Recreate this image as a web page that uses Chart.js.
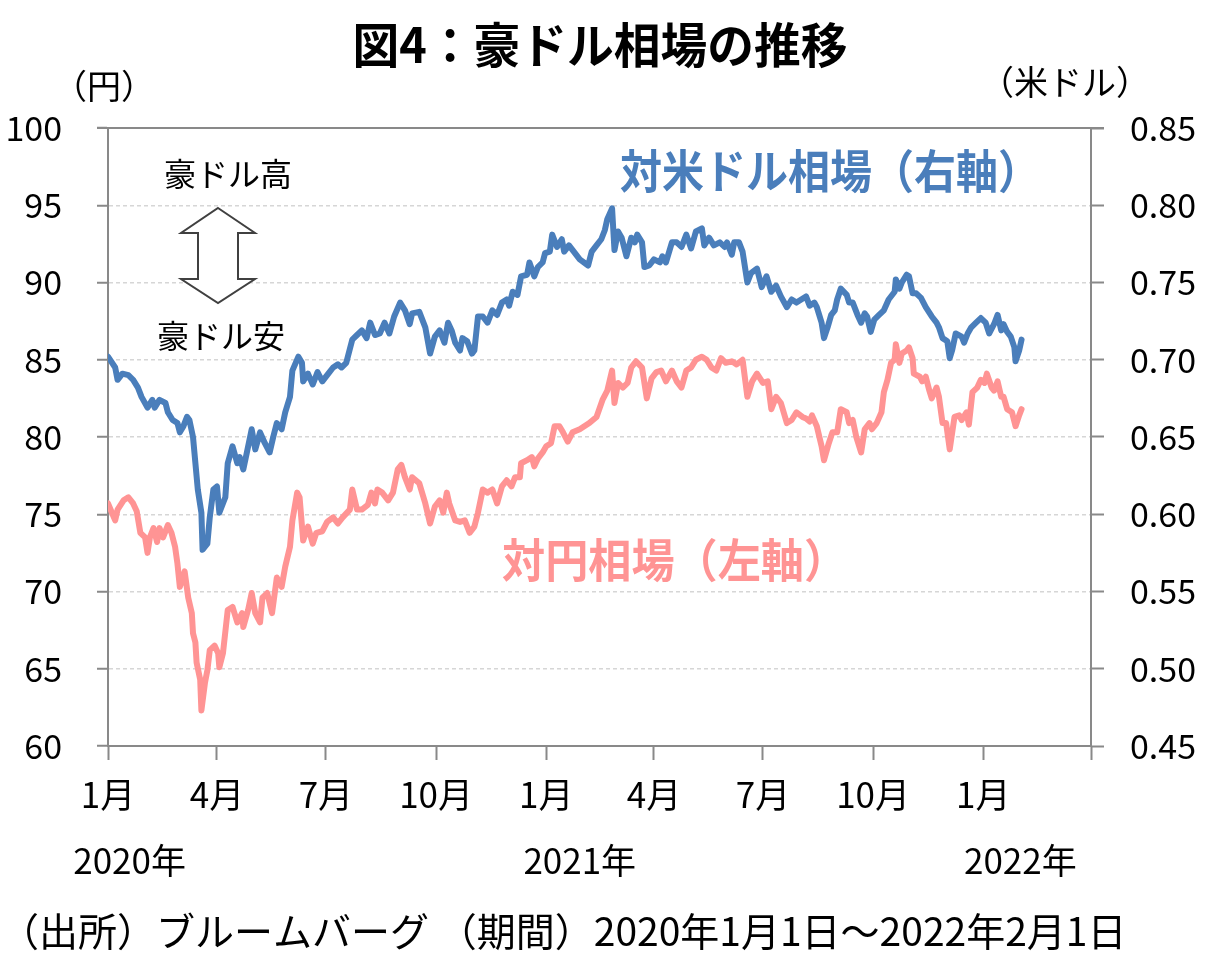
<!DOCTYPE html>
<html>
<head>
<meta charset="utf-8">
<script src="https://cdn.jsdelivr.net/npm/chart.js@4.4.1/dist/chart.umd.min.js"></script>
<style>
  body { margin: 0; background: #fff; }
  canvas { display: block; }
</style>
</head>
<body>
<canvas id="chart" width="1215" height="975"></canvas>
<script>
const FONT = '"Noto Sans CJK JP", "Noto Sans", sans-serif';

// x positions are days since 2020-01-01
const tickDays = [0, 91, 182, 274, 366, 456, 547, 639, 731, 821];
const monthLabels = ['1月', '4月', '7月', '10月', '1月', '4月', '7月', '10月', '1月', ''];
const yearLabels = ['2020年', '2021年', '2022年'];
const yearDays = [18, 394, 762];

// AUD/USD (right axis)
const usdDays = [0, 6, 8, 12, 17, 21, 25, 28, 33, 37, 39, 43, 48, 50, 54, 58, 60, 63, 66, 68, 71, 73, 75, 78, 79, 83, 85, 88, 91, 93, 98, 100, 104, 108, 110, 113, 116, 120, 123, 127, 131, 135, 138, 141, 145, 148, 152, 154, 159, 162, 163, 167, 171, 175, 179, 184, 188, 192, 195, 199, 204, 208, 212, 216, 219, 223, 227, 231, 235, 239, 244, 248, 252, 254, 260, 265, 269, 273, 277, 281, 284, 287, 290, 294, 296, 300, 304, 306, 309, 313, 317, 321, 325, 329, 333, 335, 338, 342, 345, 350, 352, 356, 359, 363, 365, 369, 371, 375, 379, 381, 385, 390, 394, 401, 404, 408, 412, 415, 417, 421, 423, 426, 429, 433, 437, 440, 442, 446, 448, 452, 456, 461, 463, 466, 471, 475, 479, 483, 487, 491, 496, 498, 502, 506, 511, 515, 517, 521, 523, 527, 530, 534, 537, 542, 546, 550, 554, 558, 562, 567, 571, 575, 579, 583, 586, 590, 592, 596, 598, 601, 604, 607, 609, 612, 617, 619, 622, 626, 629, 632, 634, 637, 640, 644, 648, 652, 657, 658, 661, 663, 667, 669, 672, 675, 679, 683, 688, 692, 694, 697, 701, 703, 705, 708, 713, 715, 718, 721, 725, 729, 733, 736, 740, 743, 746, 748, 751, 754, 757, 758, 761, 763];
const usdRates = [0.702, 0.695, 0.687, 0.691, 0.690, 0.687, 0.682, 0.676, 0.669, 0.674, 0.669, 0.674, 0.672, 0.666, 0.661, 0.659, 0.653, 0.657, 0.663, 0.661, 0.650, 0.633, 0.616, 0.601, 0.577, 0.581, 0.598, 0.616, 0.618, 0.601, 0.611, 0.633, 0.644, 0.633, 0.637, 0.629, 0.640, 0.655, 0.642, 0.653, 0.646, 0.640, 0.650, 0.659, 0.655, 0.666, 0.676, 0.693, 0.702, 0.698, 0.686, 0.691, 0.684, 0.692, 0.686, 0.691, 0.695, 0.697, 0.695, 0.698, 0.713, 0.716, 0.719, 0.714, 0.724, 0.716, 0.717, 0.724, 0.717, 0.728, 0.737, 0.732, 0.723, 0.730, 0.731, 0.721, 0.704, 0.715, 0.719, 0.711, 0.724, 0.719, 0.711, 0.706, 0.714, 0.712, 0.704, 0.706, 0.728, 0.728, 0.724, 0.732, 0.729, 0.737, 0.739, 0.735, 0.744, 0.742, 0.754, 0.755, 0.763, 0.754, 0.760, 0.763, 0.769, 0.770, 0.781, 0.773, 0.778, 0.770, 0.774, 0.769, 0.765, 0.761, 0.770, 0.774, 0.778, 0.784, 0.791, 0.798, 0.771, 0.783, 0.779, 0.767, 0.779, 0.776, 0.781, 0.776, 0.760, 0.761, 0.765, 0.763, 0.767, 0.763, 0.776, 0.776, 0.773, 0.781, 0.772, 0.783, 0.785, 0.774, 0.779, 0.774, 0.776, 0.773, 0.776, 0.768, 0.776, 0.776, 0.770, 0.750, 0.756, 0.759, 0.747, 0.754, 0.744, 0.748, 0.741, 0.734, 0.739, 0.737, 0.739, 0.741, 0.735, 0.737, 0.734, 0.724, 0.714, 0.721, 0.729, 0.732, 0.739, 0.746, 0.742, 0.737, 0.737, 0.729, 0.724, 0.730, 0.728, 0.718, 0.726, 0.729, 0.732, 0.739, 0.744, 0.752, 0.746, 0.750, 0.755, 0.754, 0.743, 0.743, 0.740, 0.734, 0.728, 0.724, 0.721, 0.714, 0.712, 0.701, 0.706, 0.717, 0.715, 0.711, 0.717, 0.721, 0.724, 0.727, 0.724, 0.717, 0.723, 0.729, 0.719, 0.723, 0.718, 0.715, 0.708, 0.699, 0.706, 0.713];

// AUD/JPY (left axis)
const jpyDays = [0, 6, 8, 13, 17, 21, 24, 27, 31, 33, 35, 38, 41, 43, 46, 50, 53, 56, 58, 60, 64, 67, 70, 71, 73, 74, 77, 78, 81, 83, 85, 89, 92, 93, 96, 100, 104, 108, 112, 113, 117, 120, 123, 127, 129, 133, 137, 141, 145, 148, 152, 154, 158, 160, 163, 167, 171, 174, 179, 183, 188, 192, 196, 202, 204, 208, 212, 217, 220, 223, 225, 229, 234, 238, 242, 245, 248, 252, 254, 260, 265, 269, 273, 277, 280, 283, 285, 290, 294, 298, 302, 306, 309, 313, 317, 321, 325, 329, 333, 337, 340, 344, 345, 350, 354, 356, 359, 363, 366, 370, 373, 377, 380, 384, 388, 394, 402, 408, 413, 417, 421, 423, 426, 430, 434, 437, 441, 446, 450, 454, 458, 462, 466, 471, 475, 479, 483, 487, 491, 496, 500, 504, 508, 512, 516, 521, 525, 530, 534, 538, 542, 547, 551, 554, 558, 562, 567, 571, 575, 580, 583, 586, 588, 592, 596, 598, 602, 605, 609, 612, 617, 619, 622, 625, 629, 632, 636, 638, 642, 646, 648, 651, 654, 657, 658, 661, 663, 667, 669, 672, 673, 678, 680, 683, 686, 688, 692, 694, 697, 700, 703, 707, 711, 713, 717, 719, 722, 726, 729, 732, 734, 738, 740, 743, 746, 748, 751, 755, 758, 761, 763];
const jpyRates = [75.7, 74.6, 75.3, 75.9, 76.1, 75.7, 75.2, 73.8, 73.5, 72.5, 73.5, 74.1, 73.2, 74.1, 73.5, 74.3, 73.8, 72.9, 71.8, 70.3, 71.3, 69.6, 68.6, 67.3, 66.7, 65.4, 64.3, 62.3, 64.1, 64.9, 66.2, 66.5, 66.0, 65.1, 66.0, 68.8, 69.0, 68.0, 68.6, 67.7, 68.8, 69.9, 68.6, 68.0, 69.6, 69.9, 68.6, 70.9, 70.3, 71.6, 72.9, 74.6, 76.4, 76.1, 73.3, 74.2, 73.1, 73.8, 73.9, 74.5, 74.8, 74.4, 74.8, 75.3, 76.6, 75.3, 75.3, 75.6, 76.4, 75.7, 76.6, 76.4, 75.9, 76.4, 77.9, 78.2, 77.4, 76.6, 77.4, 77.0, 75.7, 74.4, 75.5, 75.9, 75.1, 76.4, 75.7, 74.6, 74.5, 74.6, 73.8, 74.2, 75.1, 76.6, 76.4, 76.6, 75.7, 76.8, 77.2, 76.8, 77.4, 77.4, 78.3, 78.5, 78.7, 78.1, 78.6, 79.0, 79.4, 79.6, 80.7, 80.7, 80.3, 79.7, 80.3, 80.5, 80.9, 81.3, 82.4, 83.0, 84.3, 82.2, 83.5, 83.2, 83.5, 84.5, 84.9, 84.5, 82.5, 83.8, 84.2, 84.3, 83.6, 84.3, 83.6, 83.2, 84.3, 84.5, 85.0, 85.2, 85.0, 84.5, 84.3, 85.1, 84.8, 84.9, 84.7, 85.0, 82.6, 83.6, 84.1, 83.5, 83.6, 81.8, 82.6, 82.2, 80.9, 81.1, 81.6, 81.3, 81.2, 81.0, 81.4, 80.7, 79.4, 78.5, 79.6, 80.3, 80.3, 81.8, 81.6, 80.9, 81.1, 80.0, 79.0, 80.5, 80.9, 80.5, 80.9, 81.6, 82.9, 83.7, 84.8, 85.0, 86.0, 84.8, 85.4, 85.6, 85.8, 85.1, 84.1, 83.9, 83.6, 83.9, 83.0, 82.5, 83.2, 82.6, 80.9, 80.9, 79.2, 81.3, 81.4, 81.1, 81.6, 80.8, 82.9, 83.2, 83.7, 83.5, 84.1, 83.2, 83.0, 83.6, 82.6, 82.6, 81.8, 81.6, 80.7, 81.4, 81.8];

const BLUE = '#4a7ebb';
const PINK = '#ff9494';
const AXIS = '#898989';

const toPoints = (days, vals) => days.map((d, i) => ({ x: d, y: vals[i] }));

const textPlugin = {
    id: 'texts',
    afterDraw(chart) {
        const ctx = chart.ctx;
        const area = chart.chartArea;
        const xs = chart.scales.x;
        ctx.save();

        // top border of the plot
        ctx.strokeStyle = AXIS;
        ctx.lineWidth = 2;
        ctx.beginPath();
        ctx.moveTo(area.left - 11, area.top);
        ctx.lineTo(area.right + 13, area.top);
        ctx.stroke();

        ctx.textBaseline = 'middle';
        ctx.textAlign = 'center';
        ctx.fillStyle = '#000';

        ctx.font = 'bold 48px ' + FONT;
        ctx.fillText('図4：豪ドル相場の推移', 600, 45, 495);

        ctx.font = '34px ' + FONT;
        ctx.fillText('（円）', 104, 86);
        ctx.fillText('（米ドル）', 1065, 82);

        ctx.font = '32px ' + FONT;
        ctx.fillText('豪ドル高', 228, 174);
        ctx.fillText('豪ドル安', 221, 336);

        // years under the month labels
        ctx.font = '35px ' + FONT;
        yearLabels.forEach((t, i) => {
            ctx.fillText(t, xs.getPixelForValue(yearDays[i]), 861);
        });

        ctx.textAlign = 'left';
        ctx.font = '39px ' + FONT;
        ctx.fillText('（出所）ブルームバーグ （期間）2020年1月1日～2022年2月1日', 0, 931, 1135);

        ctx.font = 'bold 46px ' + FONT;
        ctx.fillStyle = BLUE;
        ctx.fillText('対米ドル相場（右軸）', 620, 171, 420);
        ctx.fillStyle = PINK;
        ctx.fillText('対円相場（左軸）', 502, 560, 345);

        // hollow double arrow
        const cx = 218;
        ctx.beginPath();
        ctx.moveTo(cx, 208);
        ctx.lineTo(cx + 37, 233);
        ctx.lineTo(cx + 20, 233);
        ctx.lineTo(cx + 20, 279);
        ctx.lineTo(cx + 37, 279);
        ctx.lineTo(cx, 303);
        ctx.lineTo(cx - 37, 279);
        ctx.lineTo(cx - 20, 279);
        ctx.lineTo(cx - 20, 233);
        ctx.lineTo(cx - 37, 233);
        ctx.closePath();
        ctx.fillStyle = '#fff';
        ctx.fill();
        ctx.strokeStyle = '#404040';
        ctx.lineWidth = 2;
        ctx.stroke();

        ctx.restore();
    }
};

new Chart(document.getElementById('chart'), {
    type: 'line',
    data: {
        datasets: [
            {
                label: '対米ドル相場（右軸）',
                data: toPoints(usdDays, usdRates),
                yAxisID: 'y1',
                borderColor: BLUE,
                borderWidth: 6,
                borderJoinStyle: 'round',
                borderCapStyle: 'round',
                pointRadius: 0,
                tension: 0
            },
            {
                label: '対円相場（左軸）',
                data: toPoints(jpyDays, jpyRates),
                yAxisID: 'y',
                borderColor: PINK,
                borderWidth: 6,
                borderJoinStyle: 'round',
                borderCapStyle: 'round',
                pointRadius: 0,
                tension: 0
            }
        ]
    },
    options: {
        responsive: false,
        animation: false,
        devicePixelRatio: 1,
        layout: { padding: { top: 128, left: 0, right: 0, bottom: 0 } },
        plugins: {
            legend: { display: false },
            tooltip: { enabled: false }
        },
        scales: {
            x: {
                type: 'linear',
                min: 0,
                max: 821,
                afterBuildTicks: (scale) => {
                    scale.ticks = tickDays.map(v => ({ value: v }));
                },
                afterFit: (scale) => { scale.height = 229; },
                grid: {
                    drawOnChartArea: false,
                    drawTicks: true,
                    tickLength: 14,
                    tickColor: AXIS,
                    tickWidth: 2
                },
                border: { color: AXIS, width: 2 },
                ticks: {
                    autoSkip: false,
                    maxRotation: 0,
                    padding: 14,
                    color: '#000',
                    font: { family: FONT, size: 35 },
                    callback: (value, index) => monthLabels[index]
                }
            },
            y: {
                position: 'left',
                min: 60,
                max: 100,
                afterFit: (scale) => { scale.width = 108; },
                grid: {
                    color: '#d6d6d6',
                    lineWidth: 1.5,
                    tickColor: AXIS,
                    tickWidth: 2,
                    tickLength: 11
                },
                border: { color: AXIS, width: 2, dash: [4, 3] },
                ticks: {
                    stepSize: 5,
                    padding: 35,
                    color: '#000',
                    font: { family: FONT, size: 34 }
                }
            },
            y1: {
                position: 'right',
                min: 0.45,
                max: 0.85,
                afterFit: (scale) => { scale.width = 124; },
                grid: {
                    drawOnChartArea: false,
                    tickColor: AXIS,
                    tickWidth: 2,
                    tickLength: 13
                },
                border: { color: AXIS, width: 2 },
                ticks: {
                    stepSize: 0.05,
                    padding: 26,
                    color: '#000',
                    font: { family: FONT, size: 34 },
                    callback: (value) => value.toFixed(2)
                }
            }
        }
    },
    plugins: [textPlugin]
});
</script>
</body>
</html>
